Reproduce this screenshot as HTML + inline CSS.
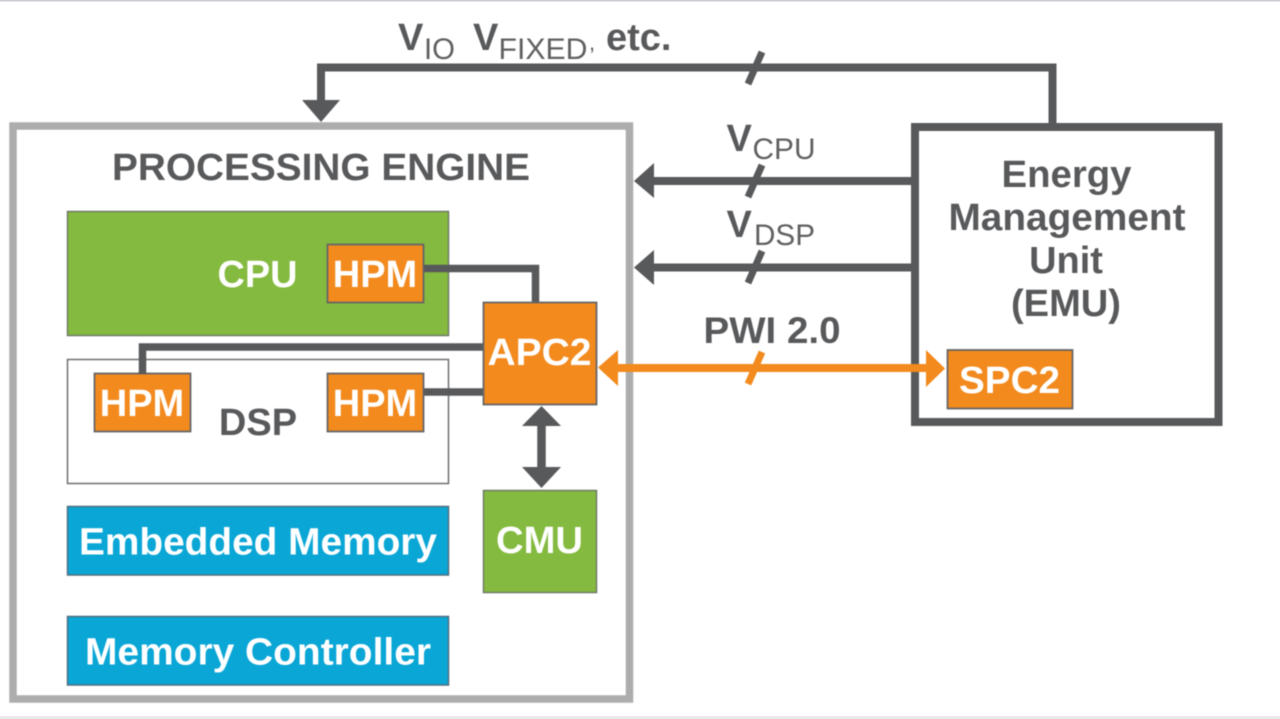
<!DOCTYPE html>
<html>
<head>
<meta charset="utf-8">
<style>
html,body{margin:0;padding:0;background:#fff;}
svg{display:block;}
#d{filter:blur(0.45px);}
text{font-family:"Liberation Sans",Arial,sans-serif;font-weight:bold;}
text.r{font-weight:normal;}
</style>
</head>
<body>
<svg width="1280" height="719" viewBox="0 0 1280 719" xmlns="http://www.w3.org/2000/svg">
<rect width="1280" height="719" fill="#fff"/>
<rect x="0" y="0" width="1280" height="1.5" fill="#c9ccd0"/>
<rect x="0" y="716" width="1280" height="3" fill="#e8eaec"/>
<g id="d">

<!-- Processing engine -->
<rect x="13" y="126" width="616.5" height="573" fill="#fff" stroke="#adadad" stroke-width="7.5"/>
<text x="321" y="180" font-size="38" fill="#58595b" text-anchor="middle" textLength="418" lengthAdjust="spacingAndGlyphs">PROCESSING ENGINE</text>

<!-- CPU -->
<rect x="67.5" y="211.5" width="381" height="124" fill="#84ba3f" stroke="#6f7a66" stroke-width="1.5"/>
<text x="257.5" y="287" font-size="38" fill="#fff" text-anchor="middle" textLength="80" lengthAdjust="spacingAndGlyphs">CPU</text>
<rect x="327.5" y="244.5" width="96" height="58" fill="#f28a1e" stroke="#666" stroke-width="1.8"/>
<text x="375" y="287" font-size="38" fill="#fff" text-anchor="middle">HPM</text>

<!-- DSP -->
<rect x="67.5" y="359.5" width="381" height="124" fill="#fff" stroke="#6d6e71" stroke-width="1.5"/>
<text x="258" y="435" font-size="38" fill="#58595b" text-anchor="middle">DSP</text>
<rect x="94.5" y="373.5" width="96" height="58" fill="#f28a1e" stroke="#666" stroke-width="1.8"/>
<text x="142" y="416" font-size="38" fill="#fff" text-anchor="middle">HPM</text>
<rect x="327.5" y="373.5" width="96" height="58" fill="#f28a1e" stroke="#666" stroke-width="1.8"/>
<text x="375" y="416" font-size="38" fill="#fff" text-anchor="middle">HPM</text>

<!-- Memory -->
<rect x="67.5" y="506.5" width="381" height="68.5" fill="#0aa6d6" stroke="#4f6f7f" stroke-width="1.5"/>
<text x="258" y="554.5" font-size="38" fill="#fff" text-anchor="middle" textLength="358" lengthAdjust="spacingAndGlyphs">Embedded Memory</text>
<rect x="67.5" y="616.5" width="381" height="68.5" fill="#0aa6d6" stroke="#4f6f7f" stroke-width="1.5"/>
<text x="258" y="664.5" font-size="38" fill="#fff" text-anchor="middle" textLength="346" lengthAdjust="spacingAndGlyphs">Memory Controller</text>

<!-- internal connectors -->
<g fill="none" stroke="#58595b" stroke-width="7.5">
<path d="M424 268.5H535.5V302"/>
<path d="M142.5 374V347H484"/>
<path d="M424 392H484"/>
<path d="M541.5 420V472" stroke-width="8.5"/>
</g>
<polygon points="541.5,406 561,426 522,426" fill="#58595b"/>
<polygon points="541.5,488 561,467 522,467" fill="#58595b"/>

<!-- APC2 / CMU -->
<rect x="483.5" y="302.5" width="113" height="102" fill="#f28a1e" stroke="#666" stroke-width="1.8"/>
<text x="539.5" y="365" font-size="38" fill="#fff" text-anchor="middle" textLength="104" lengthAdjust="spacingAndGlyphs">APC2</text>
<rect x="483.5" y="490.5" width="113" height="102" fill="#84ba3f" stroke="#6f7a66" stroke-width="1.5"/>
<text x="539.5" y="553" font-size="38" fill="#fff" text-anchor="middle" textLength="87" lengthAdjust="spacingAndGlyphs">CMU</text>

<!-- EMU -->
<rect x="915" y="127" width="303.5" height="295" fill="#fff" stroke="#58595b" stroke-width="8"/>
<g font-size="38" fill="#58595b" text-anchor="middle">
<text x="1066.5" y="187" textLength="130" lengthAdjust="spacingAndGlyphs">Energy</text>
<text x="1067" y="230" textLength="237" lengthAdjust="spacingAndGlyphs">Management</text>
<text x="1066" y="273">Unit</text>
<text x="1066" y="316" textLength="110" lengthAdjust="spacingAndGlyphs">(EMU)</text>
</g>
<rect x="947.5" y="350" width="125" height="58.5" fill="#f28a1e" stroke="#666" stroke-width="1.8"/>
<text x="1009.5" y="393" font-size="38" fill="#fff" text-anchor="middle" textLength="101" lengthAdjust="spacingAndGlyphs">SPC2</text>

<!-- Top V bus -->
<path d="M1052.5 124V67.5H321V104" fill="none" stroke="#58595b" stroke-width="8"/>
<polygon points="321,122 302,100 340,100" fill="#58595b"/>
<path d="M748 84L762 52" stroke="#58595b" stroke-width="7" fill="none"/>
<text x="398" y="50" font-size="38" fill="#58595b">V</text>
<text class="r" x="424" y="59" font-size="30" fill="#5f6062" textLength="31" lengthAdjust="spacingAndGlyphs">IO</text>
<text x="473" y="50" font-size="38" fill="#58595b">V</text>
<text class="r" x="498.5" y="59" font-size="30" fill="#5f6062" textLength="89" lengthAdjust="spacingAndGlyphs">FIXED</text>
<text class="r" x="589" y="50" font-size="22" fill="#5f6062">,</text>
<text x="606" y="50" font-size="38" fill="#58595b">etc.</text>

<!-- VCPU -->
<path d="M650 181H912" stroke="#58595b" stroke-width="8" fill="none"/>
<polygon points="634,181 654,163 654,198" fill="#58595b"/>
<path d="M748 197L762 165" stroke="#58595b" stroke-width="7" fill="none"/>
<text x="726.5" y="151" font-size="38" fill="#58595b">V</text>
<text class="r" x="752.5" y="159" font-size="30" fill="#5f6062" textLength="63" lengthAdjust="spacingAndGlyphs">CPU</text>

<!-- VDSP -->
<path d="M650 267.5H912" stroke="#58595b" stroke-width="8" fill="none"/>
<polygon points="634,267.5 654,250 654,285" fill="#58595b"/>
<path d="M748 283L762 251" stroke="#58595b" stroke-width="7" fill="none"/>
<text x="726.5" y="237" font-size="38" fill="#58595b">V</text>
<text class="r" x="754" y="245" font-size="30" fill="#5f6062" textLength="61" lengthAdjust="spacingAndGlyphs">DSP</text>

<!-- PWI -->
<text x="772" y="343" font-size="37" fill="#58595b" text-anchor="middle" textLength="137" lengthAdjust="spacingAndGlyphs">PWI 2.0</text>
<path d="M612 368H930" stroke="#f28a1e" stroke-width="8" fill="none"/>
<polygon points="598,367.5 618,350 618,386" fill="#f28a1e"/>
<polygon points="945,368.5 926,350 926,387" fill="#f28a1e"/>
<path d="M748 384L762 352" stroke="#f28a1e" stroke-width="7" fill="none"/>
</g>
</svg>
</body>
</html>
